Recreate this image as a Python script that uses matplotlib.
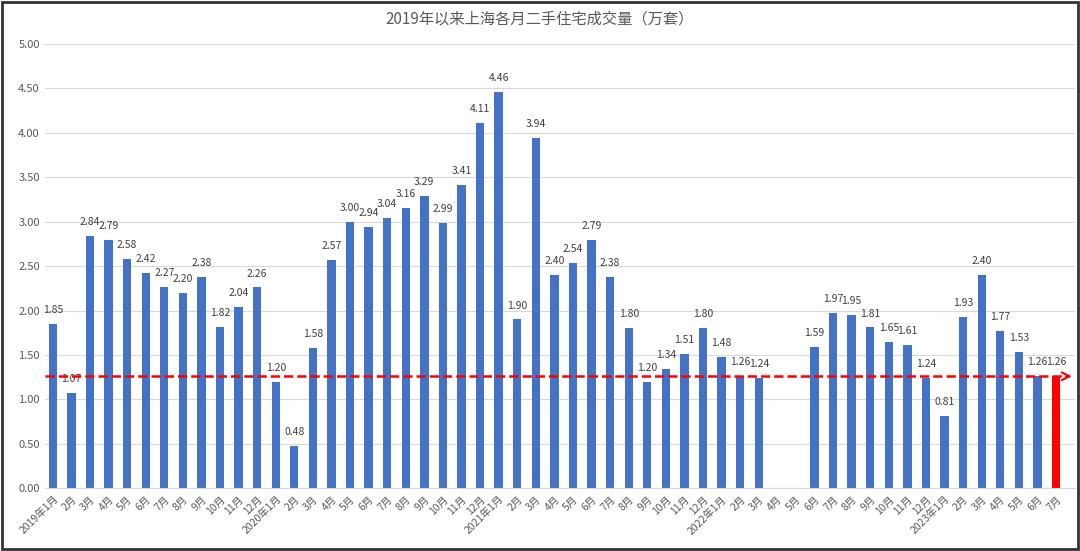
import matplotlib.pyplot as plt
import numpy as np
from matplotlib.patches import Rectangle

plt.rcParams['font.family'] = ['Noto Sans CJK SC', 'DejaVu Sans']

months = (['2019年1月'] + [f'{m}月' for m in range(2, 13)]
          + ['2020年1月'] + [f'{m}月' for m in range(2, 13)]
          + ['2021年1月'] + [f'{m}月' for m in range(2, 13)]
          + ['2022年1月'] + [f'{m}月' for m in range(2, 13)]
          + ['2023年1月'] + [f'{m}月' for m in range(2, 8)])

v2019 = [1.85, 1.07, 2.84, 2.79, 2.58, 2.42, 2.27, 2.20, 2.38, 1.82, 2.04, 2.26]
v2020 = [1.20, 0.48, 1.58, 2.57, 3.00, 2.94, 3.04, 3.16, 3.29, 2.99, 3.41, 4.11]
v2021 = [4.46, 1.90, 3.94, 2.40, 2.54, 2.79, 2.38, 1.80, 1.20, 1.34, 1.51, 1.80]
v2022 = [1.48, 1.26, 1.24, None, None, 1.59, 1.97, 1.95, 1.81, 1.65, 1.61, 1.24]
v2023 = [0.81, 1.93, 2.40, 1.77, 1.53, 1.26, 1.26]

values = v2019 + v2020 + v2021 + v2022 + v2023
ref_level = 1.26

x = np.arange(len(months))
heights = [v if v is not None else 0 for v in values]
colors = ['#4472C4'] * (len(values) - 1) + ['#FF0000']

fig = plt.figure(figsize=(10.8, 5.51), dpi=100)
ax = fig.add_axes([0.042, 0.114, 0.953, 0.806])

ax.bar(x, heights, width=0.45, color=colors, zorder=2)

for xi, v in zip(x, values):
    if v is None:
        continue
    ax.text(xi, v + 0.1, f'{v:.2f}', ha='center', va='bottom',
            fontsize=7.5, color='#404040')

ax.set_xlim(-0.4, 55.0)
ax.set_ylim(0, 5.0)
ax.set_yticks(np.arange(0, 5.01, 0.5))
ax.set_yticklabels([f'{t:.2f}' for t in np.arange(0, 5.01, 0.5)],
                   fontsize=8, color='#595959')
ax.set_xticks(x)
ax.set_xticklabels(months, rotation=45, ha='right', rotation_mode='anchor',
                   fontsize=7.5, color='#595959')
ax.tick_params(length=0, pad=4)
ax.grid(axis='y', color='#d9d9d9', lw=0.8, zorder=0)
for s in ['top', 'right', 'left']:
    ax.spines[s].set_visible(False)
ax.spines['bottom'].set_color('#d9d9d9')

# red dashed reference line with arrow head
ax.plot([-0.4, 54.7], [ref_level, ref_level], color='#FF0000', ls='--',
        lw=1.8, zorder=3)
ax.annotate('', xy=(55.0, ref_level), xytext=(54.4, ref_level),
            arrowprops=dict(arrowstyle='->', color='#FF0000', lw=1.5,
                            mutation_scale=14),
            annotation_clip=False, zorder=3)

fig.text(0.5, 0.965, '2019年以来上海各月二手住宅成交量（万套）',
         ha='center', va='center', fontsize=11, color='#595959')

fig.patches.append(Rectangle((0.002, 0.003), 0.996, 0.994,
                             transform=fig.transFigure, fill=False,
                             edgecolor='#333333', lw=2))

fig.savefig('out.png', dpi=100)
